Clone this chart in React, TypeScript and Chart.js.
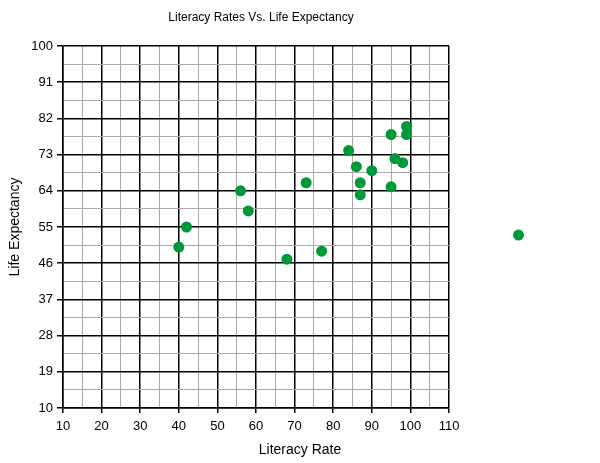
import React, { useEffect, useRef } from "react";
import { Chart, registerables } from "chart.js";

Chart.register(...registerables);

const chartTitle = "Literacy Rates Vs. Life Expectancy";
const xAxisTitle = "Literacy Rate";
const yAxisTitle = "Life Expectancy";

const literacyRate = [128, 40, 42, 56, 58, 68, 73, 77, 84, 86, 87, 87, 90, 95, 95, 96, 98, 99, 99];
const lifeExpectancy = [53, 50, 55, 64, 59, 47, 66, 49, 74, 70, 66, 63, 69, 78, 65, 72, 71, 80, 78];

const xMin = 10;
const xMax = 110;
const xMajorStep = 10;
const yMin = 10;
const yMax = 100;
const yMajorStep = 9;

const FONT = '"Liberation Sans", Arial, Helvetica, sans-serif';

const titlesPlugin = {
  id: "customTitles",
  afterDraw(chart: any) {
    const ctx = chart.ctx;
    ctx.save();
    ctx.fillStyle = "#000";
    ctx.textAlign = "center";
    ctx.textBaseline = "middle";
    ctx.font = `12px ${FONT}`;
    ctx.fillText(chartTitle, 261, 18);
    ctx.font = `14px ${FONT}`;
    ctx.fillText(xAxisTitle, chart.width / 2, 450);
    ctx.restore();
  },
};

// Chart.js culls points lying outside the chart area; draw those library elements too.
const outsidePointsPlugin = {
  id: "outsidePoints",
  afterDatasetsDraw(chart: any) {
    const a = chart.chartArea;
    chart.getSortedVisibleDatasetMetas().forEach((meta: any) => {
      meta.data.forEach((el: any) => {
        const m = (el.options?.radius ?? 0) + 0.5;
        const inside = el.x > a.left - m && el.x < a.right + m && el.y > a.top - m && el.y < a.bottom + m;
        if (!inside) el.draw(chart.ctx);
      });
    });
  },
};

export default function App() {
  const ref = useRef<HTMLCanvasElement | null>(null);

  useEffect(() => {
    if (!ref.current) return;
    const points = literacyRate.map((x, i) => ({ x, y: lifeExpectancy[i] }));
    const major = (c: any) => c.index % 2 === 0;
    const chart = new Chart(ref.current, {
      type: "scatter",
      data: {
        datasets: [
          {
            data: points,
            backgroundColor: "rgb(0,153,57)",
            borderWidth: 0,
            pointRadius: 5.5,
            pointHoverRadius: 5.5,
            clip: false as any,
          },
        ],
      },
      plugins: [outsidePointsPlugin, titlesPlugin],
      options: {
        animation: false,
        responsive: false,
        maintainAspectRatio: false,
        layout: { padding: { top: 46, right: 151, left: 0, bottom: 0 } },
        plugins: {
          legend: { display: false },
          tooltip: { enabled: false },
          title: { display: false },
        },
        scales: {
          x: {
            type: "linear",
            min: xMin,
            max: xMax,
            afterFit: (s: any) => {
              s.height = 55;
            },
            border: { color: "#000", width: 1.5 },
            grid: {
              color: (c: any) => (major(c) ? "#000" : "#aaa"),
              tickColor: (c: any) => (major(c) ? "#000" : "rgba(0,0,0,0)"),
              lineWidth: (c: any) => (major(c) ? 1.5 : 1),
              tickWidth: 1.5,
              tickLength: 5,
            },
            ticks: {
              stepSize: xMajorStep / 2,
              autoSkip: false,
              maxRotation: 0,
              padding: 6,
              color: "#000",
              font: { family: FONT, size: 13 },
              callback: (v: any) => ((Number(v) - xMin) % xMajorStep === 0 ? String(v) : ""),
            },
          },
          y: {
            type: "linear",
            min: yMin,
            max: yMax,
            afterFit: (s: any) => {
              s.width = 63;
            },
            border: { color: "#000", width: 1.5 },
            grid: {
              color: (c: any) => (major(c) ? "#000" : "#aaa"),
              tickColor: (c: any) => (major(c) ? "#000" : "rgba(0,0,0,0)"),
              lineWidth: (c: any) => (major(c) ? 1.5 : 1),
              tickWidth: 1.5,
              tickLength: 6,
            },
            ticks: {
              stepSize: yMajorStep / 2,
              autoSkip: false,
              padding: 4,
              color: "#000",
              font: { family: FONT, size: 13 },
              callback: (v: any) => ((Number(v) - yMin) % yMajorStep === 0 ? String(v) : ""),
            },
            title: {
              display: true,
              text: yAxisTitle,
              color: "#000",
              font: { family: FONT, size: 14 },
              padding: { top: 7, bottom: 0 },
            },
          },
        },
      },
    });
    return () => chart.destroy();
  }, []);

  return (
    <div style={{ position: "absolute", left: 0, top: 0, width: 600, height: 463, background: "#fff" }}>
      <canvas ref={ref} width={600} height={463} style={{ display: "block" }} />
    </div>
  );
}
